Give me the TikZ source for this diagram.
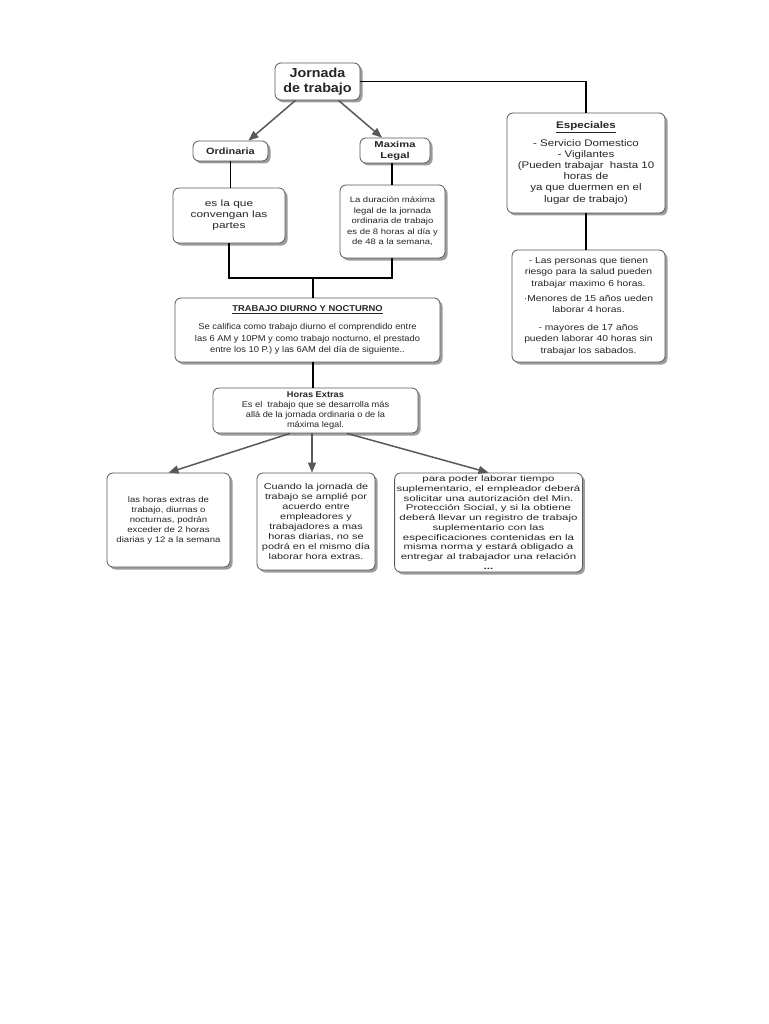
\documentclass[tikz,border=0pt]{standalone}
\usepackage{fontspec}
\setmainfont{Liberation Sans}
\newfontfamily\fsa[FakeStretch=1.1]{Liberation Sans}
\newfontfamily\fsb[FakeStretch=1.2]{Liberation Sans}
\newfontfamily\fsc[FakeStretch=1.3]{Liberation Sans}
\newfontfamily\fsd[FakeStretch=1.4]{Liberation Sans}
\usetikzlibrary{arrows.meta,shadows}
\begin{document}
\begin{tikzpicture}[x=1pt,y=-1pt,
  box/.style={draw=black!65, line width=0.8pt, rounded corners=6pt, fill=white,
    drop shadow={shadow xshift=2.5pt, shadow yshift=-2.5pt, fill=black!55, opacity=0.7},
    align=center, inner sep=2pt, text=black!85},
  conn/.style={draw=black, line width=1.3pt},
  arr/.style={draw=black!65, line width=1.5pt, -{Triangle[length=10pt,width=8pt]}}]
\useasboundingbox[fill=white] (0,0) rectangle (768,1024);

\node[box, minimum width=85pt, minimum height=37pt, font=\fsa\fontsize{13}{15}\selectfont\bfseries] (jor) at (317.5,81.5) {Jornada\\de trabajo};
\node[box, minimum width=75pt, minimum height=20pt, font=\fsb\fontsize{9.1}{10}\selectfont\bfseries] (ord) at (230.5,151) {Ordinaria};
\node[box, minimum width=70pt, minimum height=25pt, font=\fsc\fontsize{8.6}{11}\selectfont\bfseries] (max) at (395,150.5) {Maxima\\Legal};
\node[box, minimum width=158pt, minimum height=100pt, font=\fsb\fontsize{9.6}{11.2}\selectfont] (esp) at (586,163) {\underline{\textbf{Especiales}}\\[6pt]- Servicio Domestico\\- Vigilantes\\(Pueden trabajar\ \ hasta 10\\horas de\\ya que duermen en el\\lugar de trabajo)};
\node[box, minimum width=153pt, minimum height=112pt, font=\fsb\fontsize{8.6}{11.4}\selectfont] (esp2) at (588.5,306) {- Las personas que tienen\\riesgo para la salud pueden\\trabajar maximo 6 horas.\\[4pt]·Menores de 15 años ueden\\laborar 4 horas.\\[6pt]- mayores de 17 años\\pueden laborar 40 horas sin\\trabajar los sabados.};
\node[box, minimum width=112pt, minimum height=55pt, font=\fsc\fontsize{9.15}{11}\selectfont] (conv) at (229,215.5) {es la que\\convengan las\\partes};
\node[box, minimum width=105pt, minimum height=73pt, font=\fsb\fontsize{7.9}{10.5}\selectfont] (dur) at (392.5,221.5) {La duración máxima\\legal de la jornada\\ordinaria de trabajo\\es de 8 horas al día y\\de 48 a la semana,};
\node[box, minimum width=265pt, minimum height=64pt, font=\fsa\fontsize{8.5}{11.5}\selectfont] (trab) at (307.5,330) {\underline{\textbf{TRABAJO DIURNO Y NOCTURNO}}\\[7pt]Se califica como trabajo diurno el comprendido entre\\las 6 AM y 10PM y como trabajo nocturno, el prestado\\entre los 10 P.) y las 6AM del día de siguiente..};
\node[box, minimum width=205pt, minimum height=45pt, font=\fsa\fontsize{8.4}{9.8}\selectfont] (hor) at (315.5,410.5) {\textbf{Horas Extras}\\Es el\ \ trabajo que se desarrolla más\\allá de la jornada ordinaria o de la\\máxima legal.};
\node[box, minimum width=123pt, minimum height=94pt, font=\fsb\fontsize{8}{10}\selectfont] (b1) at (168.5,520) {las horas extras de\\trabajo, diurnas o\\nocturnas, podrán\\exceder de 2 horas\\diarias y 12 a la semana};
\node[box, minimum width=118pt, minimum height=97pt, font=\fsc\fontsize{8.4}{10}\selectfont] (b2) at (316,521.5) {Cuando la jornada de\\trabajo se amplié por\\acuerdo entre\\empleadores y\\trabajadores a mas\\horas diarias, no se\\podrá en el mismo día\\laborar hora extras.};
\node[box, minimum width=187pt, minimum height=99pt, font=\fsd\fontsize{8.2}{9.7}\selectfont] (b3) at (488.5,522.5) {para poder laborar tiempo\\suplementario, el empleador deberá\\solicitar una autorización del Min.\\Protección Social, y si la obtiene\\deberá llevar un registro de trabajo\\suplementario con las\\especificaciones contenidas en la\\misma norma y estará obligado a\\entregar al trabajador una relación\\\textbf{...}};

\coordinate (jn) at (313,278);
\draw[conn] (jor.east) -| (esp.north);
\draw[conn] (esp.south) -- (esp.south |- esp2.north);
\draw[conn] (ord.south) -- (ord.south |- conv.north);
\draw[conn] ([xshift=-3pt]max.south) -- ([xshift=-3pt]max.south |- dur.north);
\draw[conn] (conv.south) -- (conv.south |- jn) -- ([xshift=-0.5pt]dur.south |- jn) -- ([xshift=-0.5pt]dur.south);
\draw[conn] (jn) -- (jn |- trab.north);
\draw[conn] (jn |- trab.south) -- (jn |- hor.north);

\draw[arr] ([xshift=-22pt]jor.south) -- ([xshift=18pt]ord.north);
\draw[arr] ([xshift=21pt]jor.south) -- ([xshift=-13pt]max.north);
\draw[arr] ([xshift=-25.5pt]hor.south) -- (b1.north);
\draw[arr] ([xshift=-3.5pt]hor.south) -- ([xshift=-4pt]b2.north);
\draw[arr] ([xshift=31.5pt]hor.south) -- (b3.north);
\end{tikzpicture}
\end{document}
